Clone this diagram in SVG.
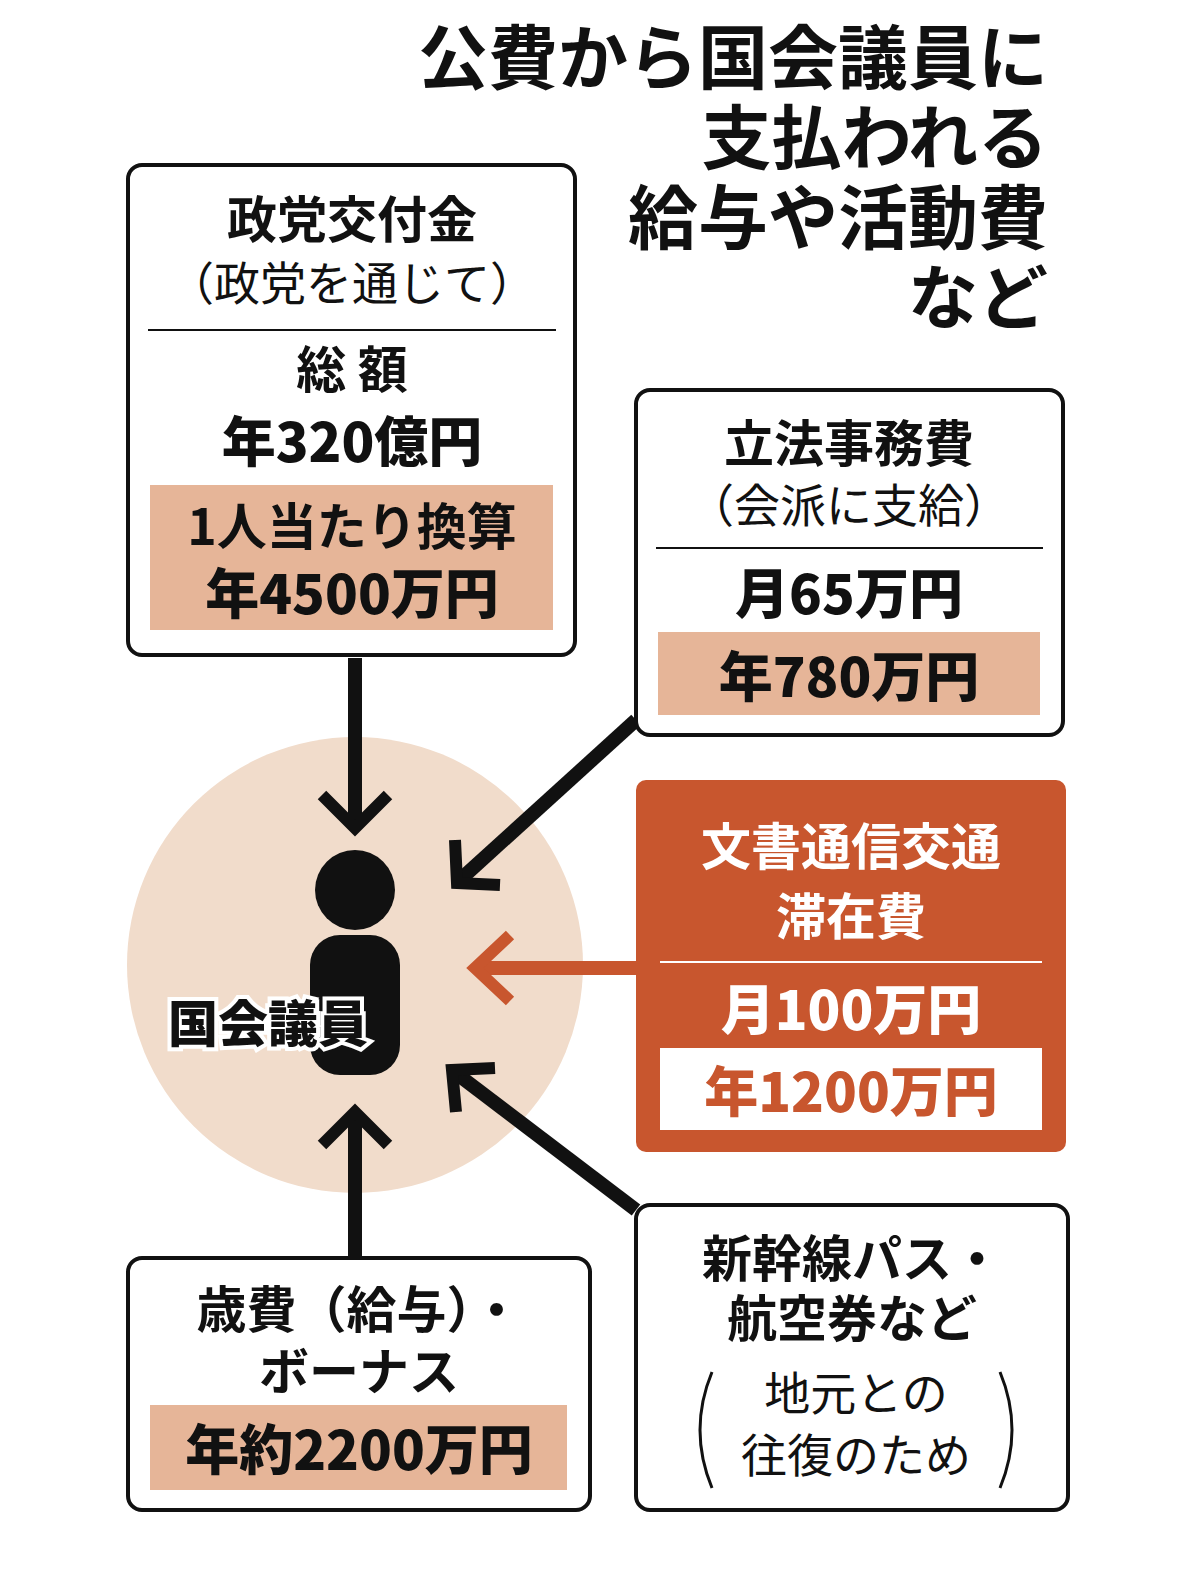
<svg xmlns="http://www.w3.org/2000/svg" width="1179" height="1569" viewBox="0 0 1179 1569">
<style>
text{font-family:"Noto Sans CJK JP","Noto Sans",sans-serif;text-anchor:middle;fill:#111}
.t{font-size:70px;font-weight:700;text-anchor:end}
.h{font-size:50px;font-weight:700}
.s{font-size:46px;font-weight:400}
.n{font-size:54px;font-weight:900}
.box{fill:#fff;stroke:#111;stroke-width:4}
.tan{fill:#e6b598}
.arr{stroke:#111;stroke-width:14;fill:none;stroke-linecap:butt}
.head{stroke:#111;stroke-width:12;fill:none;stroke-linejoin:miter}
</style>
<rect width="1179" height="1569" fill="#fff"/>
<g id="title">
<text class="t" x="1048" y="84">公費から国会議員に</text>
<text class="t" x="1048" y="164">支払われる</text>
<text class="t" x="1048" y="244">給与や活動費</text>
<text class="t" x="1048" y="324">など</text>
</g>
<g id="center">
<circle cx="355" cy="965" r="228" fill="#f1dccb"/>
<circle cx="355" cy="890" r="40" fill="#111"/>
<rect x="310" y="935" width="90" height="140" rx="30" fill="#111"/>
<text x="268" y="1042" style="font-size:50px;font-weight:900;stroke:#fff;stroke-width:8;paint-order:stroke">国会議員</text>
</g>
<g id="connectors">
<path class="arr" d="M355 658V822"/><path class="head" d="M322 795L355 828L388 795"/>
<path class="arr" d="M636 720L462 878"/><path class="head" d="M455 840L457 883L500 885"/>
<path class="arr" d="M636 968H478" style="stroke:#c8562e"/><path class="head" d="M510 935L475 968L510 1001" style="stroke:#c8562e"/>
<path class="arr" d="M355 1256V1118"/><path class="head" d="M322 1145L355 1112L388 1145"/>
<path class="arr" d="M636 1210L457 1074"/><path class="head" d="M495 1068L452 1070L456 1112"/>
</g>
<g id="n1">
<rect class="box" x="128" y="165" width="447" height="490" rx="14"/>
<text class="h" x="352" y="238">政党交付金</text>
<text class="s" x="352" y="300">（政党を通じて）</text>
<line x1="148" y1="330" x2="556" y2="330" stroke="#111" stroke-width="2"/>
<text class="h" x="352" y="388">総 額</text>
<text class="n" x="352" y="462">年320億円</text>
<rect class="tan" x="150" y="485" width="403" height="145"/>
<text class="h" x="352" y="545">1人当たり換算</text>
<text class="n" x="352" y="614">年4500万円</text>
</g>
<g id="n2">
<rect class="box" x="636" y="390" width="427" height="345" rx="14"/>
<text class="h" x="849" y="462">立法事務費</text>
<text class="s" x="849" y="522">（会派に支給）</text>
<line x1="656" y1="548" x2="1043" y2="548" stroke="#111" stroke-width="2"/>
<text class="n" x="849" y="614">月65万円</text>
<rect class="tan" x="658" y="632" width="382" height="83"/>
<text class="n" x="849" y="697">年780万円</text>
</g>
<g id="n3">
<rect x="636" y="780" width="430" height="372" rx="10" fill="#c8562e"/>
<text class="h" x="851" y="865" style="fill:#fff">文書通信交通</text>
<text class="h" x="851" y="935" style="fill:#fff">滞在費</text>
<line x1="660" y1="962" x2="1042" y2="962" stroke="#fff" stroke-width="2"/>
<text class="n" x="851" y="1030" style="fill:#fff">月100万円</text>
<rect x="660" y="1048" width="382" height="82" fill="#fff"/>
<text class="n" x="851" y="1112" style="fill:#c8562e">年1200万円</text>
</g>
<g id="n4">
<rect class="box" x="128" y="1258" width="462" height="252" rx="14"/>
<text class="h" x="359" y="1328">歳費（給与）・</text>
<text class="h" x="359" y="1390">ボーナス</text>
<rect class="tan" x="150" y="1405" width="417" height="85"/>
<text class="n" x="359" y="1470">年約2200万円</text>
</g>
<g id="n5">
<rect class="box" x="636" y="1205" width="432" height="305" rx="14"/>
<text class="h" x="852" y="1277">新幹線パス・</text>
<text class="h" x="852" y="1337">航空券など</text>
<text class="s" x="856" y="1410">地元との</text>
<text class="s" x="856" y="1472">往復のため</text>
<path d="M712 1372Q688 1430 712 1488" stroke="#111" stroke-width="3" fill="none"/>
<path d="M1000 1372Q1024 1430 1000 1488" stroke="#111" stroke-width="3" fill="none"/>
</g>
</svg>
